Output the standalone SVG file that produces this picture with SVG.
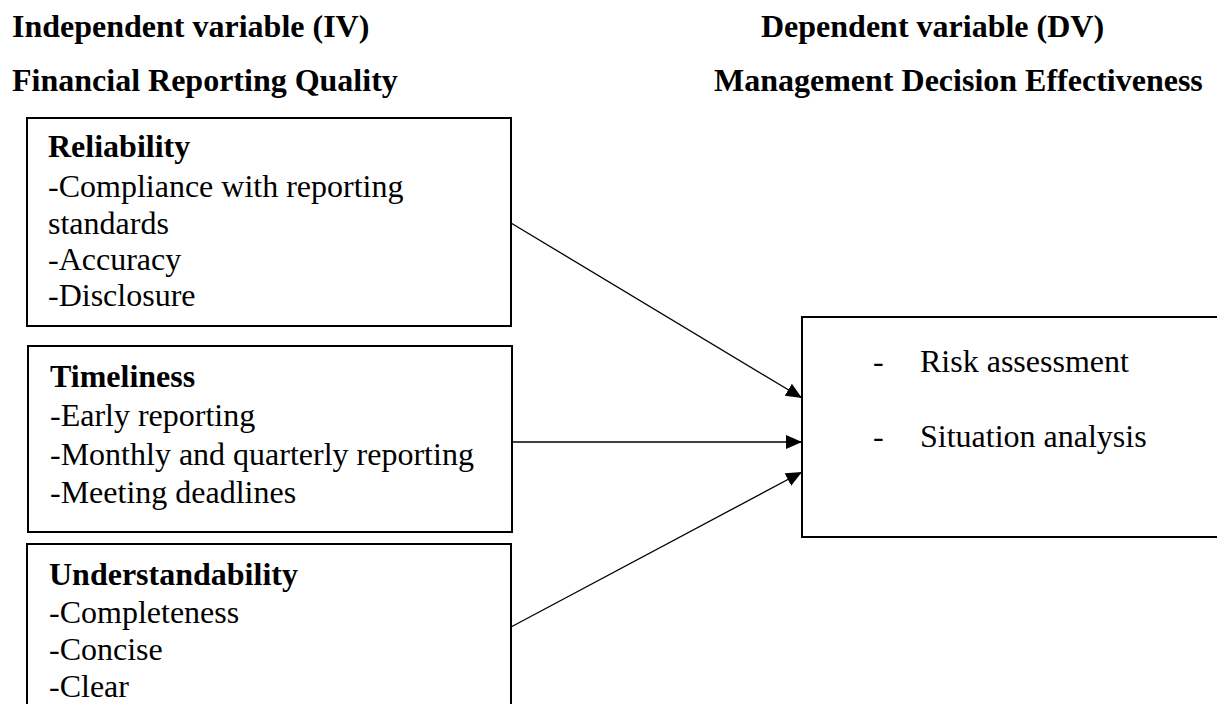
<svg xmlns="http://www.w3.org/2000/svg" width="1217" height="704" viewBox="0 0 1217 704">
<style>
  text { font-family: "Liberation Serif", "Times New Roman", serif; font-size: 32px; fill: #000; }
  .b { font-weight: bold; }
  .box { fill: #fff; stroke: #000; stroke-width: 2; }
  .conn { stroke: #000; stroke-width: 1.3; fill: none; }
</style>
<defs>
  <marker id="arrow" markerUnits="userSpaceOnUse" markerWidth="18" markerHeight="16" refX="16" refY="7" orient="auto">
    <path d="M0,0 L16,7 L0,14 z" fill="#000"/>
  </marker>
</defs>
<rect width="1217" height="704" fill="#fff"/>
<g id="headers">
  <text class="b" x="12" y="37">Independent variable (IV)</text>
  <text class="b" x="12" y="91">Financial Reporting Quality</text>
  <text class="b" x="761" y="37">Dependent variable (DV)</text>
  <text class="b" x="714" y="91">Management Decision Effectiveness</text>
</g>
<g id="reliability">
  <rect class="box" x="27" y="118" width="484" height="208"/>
  <text class="b" x="48" y="157">Reliability</text>
  <text x="48" y="197">-Compliance with reporting</text>
  <text x="48" y="234">standards</text>
  <text x="48" y="270">-Accuracy</text>
  <text x="48" y="306">-Disclosure</text>
</g>
<g id="timeliness">
  <rect class="box" x="28" y="346" width="484" height="186"/>
  <text class="b" x="50" y="387">Timeliness</text>
  <text x="50" y="426">-Early reporting</text>
  <text x="50" y="465">-Monthly and quarterly reporting</text>
  <text x="50" y="503">-Meeting deadlines</text>
</g>
<g id="understandability">
  <rect class="box" x="27" y="544" width="484" height="175"/>
  <text class="b" x="49" y="585">Understandability</text>
  <text x="49" y="623">-Completeness</text>
  <text x="49" y="660">-Concise</text>
  <text x="49" y="697">-Clear</text>
</g>
<g id="dv">
  <rect class="box" x="802" y="317" width="425" height="220"/>
  <text x="873" y="372">-</text>
  <text x="920" y="372">Risk assessment</text>
  <text x="873" y="447">-</text>
  <text x="920" y="447">Situation analysis</text>
</g>
<g id="connectors">
  <line class="conn" x1="511" y1="223" x2="802" y2="398" marker-end="url(#arrow)"/>
  <line class="conn" x1="513" y1="442" x2="802" y2="442" marker-end="url(#arrow)"/>
  <line class="conn" x1="511" y1="627" x2="802" y2="472" marker-end="url(#arrow)"/>
</g>
</svg>
